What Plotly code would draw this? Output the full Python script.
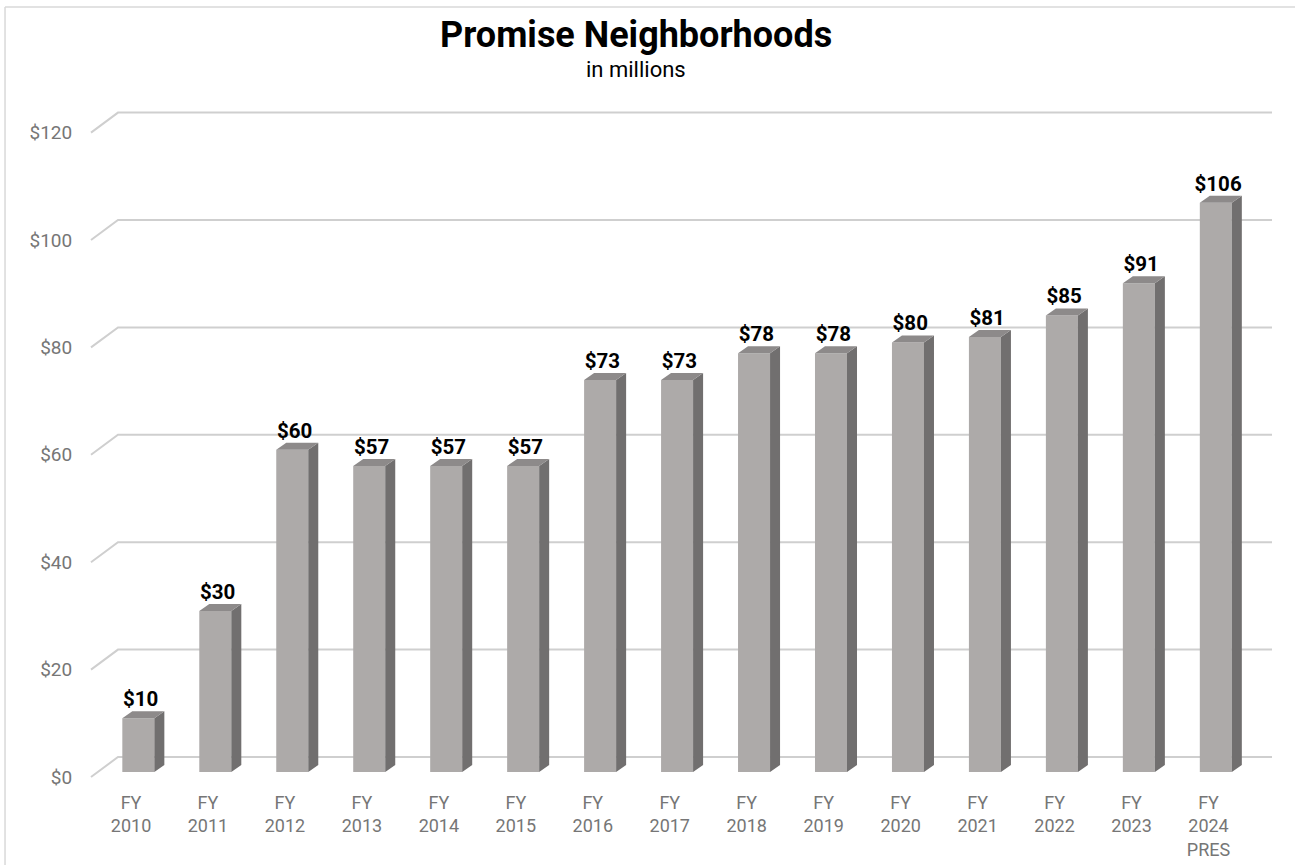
import plotly.graph_objects as go

categories = ["FY<br>2010", "FY<br>2011", "FY<br>2012", "FY<br>2013", "FY<br>2014",
              "FY<br>2015", "FY<br>2016", "FY<br>2017", "FY<br>2018", "FY<br>2019",
              "FY<br>2020", "FY<br>2021", "FY<br>2022", "FY<br>2023", "FY<br>2024<br>PRES"]
values = [10, 30, 60, 57, 57, 57, 73, 73, 78, 78, 80, 81, 85, 91, 106]
labels = ["$" + str(v) for v in values]
y_ticks = [0, 20, 40, 60, 80, 100, 120]
y_tick_text = ["$" + str(v) for v in y_ticks]

FRONT = "#adaaa9"
SIDE = "#716f6f"
TOP = "#8d8a8a"
GRID = "#cfcfcf"
TICK = "#767676"

# geometry (in axis units)
bar_w = 0.416          # front face width
shift = 0.095          # bar offset from tick (perspective)
dx = 0.13              # depth in x
dy = 1.3               # depth in y
label_off = -0.93      # tick label offset
back_off = 2.79        # back wall offset

xs = [i + shift for i in range(len(values))]

side_x, side_y, top_x, top_y = [], [], [], []
for x, v in zip(xs, values):
    r = x + bar_w / 2
    l = x - bar_w / 2
    side_x += [r, r + dx, r + dx, r, r, None]
    side_y += [0, dy, v + dy, v, 0, None]
    top_x += [l, l + dx, r + dx, r, l, None]
    top_y += [v, v + dy, v + dy, v, v, None]

fig = go.Figure()
fig.add_trace(go.Bar(x=xs, y=values, width=bar_w, marker=dict(color=FRONT, line=dict(width=0)),
                     hoverinfo="skip"))
fig.add_trace(go.Scatter(x=side_x, y=side_y, fill="toself", fillcolor=SIDE, mode="lines",
                         line=dict(width=0, color=SIDE), hoverinfo="skip"))
fig.add_trace(go.Scatter(x=top_x, y=top_y, fill="toself", fillcolor=TOP, mode="lines",
                         line=dict(width=0, color=TOP), hoverinfo="skip"))
fig.add_trace(go.Scatter(x=[x + 0.03 for x in xs], y=[v + dy for v in values], mode="text",
                         text=labels, textposition="top center",
                         textfont=dict(family="Roboto", size=20.5, color="#000000", weight="bold"),
                         hoverinfo="skip"))

# perspective gridlines
wall_left = 27 / 1181
for t in y_ticks:
    fig.add_shape(type="path", xref="paper", yref="y", layer="below",
                  path=f"M 0 {t + label_off} L {wall_left} {t + back_off} L 1 {t + back_off}",
                  line=dict(color=GRID, width=2))

# frame lines (top and left)
fig.add_shape(type="line", xref="paper", yref="paper", x0=-0.0728, x1=1.2, y0=1.1348, y1=1.1348,
              line=dict(color="#d9d9d9", width=1.5))
fig.add_shape(type="line", xref="paper", yref="paper", x0=-0.0728, x1=-0.0728, y0=1.1348, y1=-0.2,
              line=dict(color="#d9d9d9", width=1.5))

fig.add_annotation(text="<b>Promise Neighborhoods</b>", xref="paper", yref="paper",
                   x=0.4615, y=1.0942, xanchor="center", yanchor="middle", showarrow=False,
                   font=dict(family="Roboto", size=36, color="#000000"))
fig.add_annotation(text="in millions", xref="paper", yref="paper",
                   x=0.4615, y=1.0435, xanchor="center", yanchor="middle", showarrow=False,
                   font=dict(family="Roboto", size=22, color="#000000"))

fig.update_layout(
    width=1295, height=865,
    margin=dict(l=91, r=23, t=100, b=75, autoexpand=False),
    paper_bgcolor="white", plot_bgcolor="white",
    showlegend=False,
    xaxis=dict(range=[-0.52, 14.825], tickmode="array", tickvals=list(range(len(categories))),
               ticktext=categories, showgrid=False, zeroline=False, showline=False,
               ticks="", tickfont=dict(family="Roboto", size=18, color=TICK)),
    yaxis=dict(range=[-3.352, 125.14], tickmode="array", tickvals=[t + label_off for t in y_ticks],
               ticktext=y_tick_text, showgrid=False, zeroline=False, showline=False,
               ticks="outside", ticklen=14, tickcolor="rgba(0,0,0,0)",
               tickfont=dict(family="Roboto", size=19, color=TICK)),
)

fig.write_html("out.html", post_script="document.body.style.margin='0';",
               config={"displayModeBar": False})
